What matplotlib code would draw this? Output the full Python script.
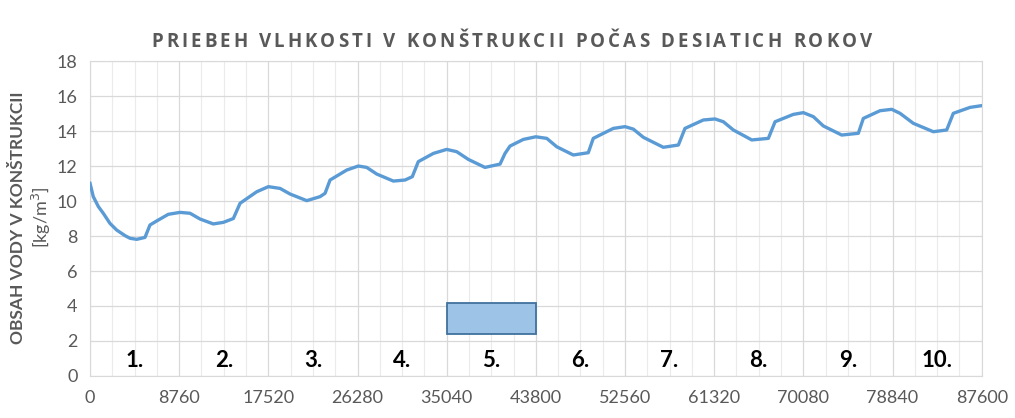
import numpy as np
import matplotlib.pyplot as plt
from matplotlib.patches import Rectangle
from matplotlib.ticker import MultipleLocator

# Obsah vody v konštrukcii [kg/m3] v čase [h]
hodiny = [0, 320, 820, 1300, 1960, 2620, 3440, 3930, 4590, 5400,
          5890, 6550, 7690, 8840, 9820, 10810, 12110, 13100, 14080, 14740,
          16380, 17520, 18670, 19650, 21290, 22600, 23090, 23580, 25220, 26360,
          27180, 28170, 29800, 30950, 31660, 32250, 33730, 35040, 36020, 37160,
          38800, 40280, 40770, 41260, 42570, 43790, 44870, 45850, 47480, 48950,
          49440, 51410, 52560, 53370, 54360, 56320, 57800, 58450, 60250, 61400,
          62220, 63200, 65010, 66640, 67300, 69090, 70080, 71060, 72040, 73850,
          75480, 75970, 77610, 78760, 79580, 80880, 82850, 84160, 84810, 86450,
          87600]
vlhkost = [11.01, 10.25, 9.68, 9.30, 8.72, 8.34, 8.02, 7.87, 7.81, 7.92,
           8.63, 8.86, 9.24, 9.35, 9.30, 8.97, 8.69, 8.78, 9.00, 9.87,
           10.53, 10.82, 10.72, 10.40, 10.02, 10.25, 10.44, 11.20, 11.77, 12.00,
           11.92, 11.54, 11.14, 11.20, 11.39, 12.25, 12.72, 12.95, 12.82, 12.38,
           11.92, 12.11, 12.72, 13.14, 13.52, 13.67, 13.58, 13.10, 12.63, 12.76,
           13.58, 14.15, 14.25, 14.11, 13.64, 13.07, 13.20, 14.15, 14.63, 14.69,
           14.53, 14.06, 13.49, 13.58, 14.53, 14.95, 15.05, 14.82, 14.29, 13.77,
           13.87, 14.72, 15.16, 15.24, 15.01, 14.44, 13.96, 14.06, 15.01, 15.35,
           15.45]

roky = ['1.', '2.', '3.', '4.', '5.', '6.', '7.', '8.', '9.', '10.']
hodin_za_rok = 8760
vyznaceny_rok = 5
obdlznik_od, obdlznik_do = 2.4, 4.15

seda = '#595959'
plt.rcParams['font.family'] = ['Lato', 'DejaVu Sans']


def text_s_medzerami(fig, x_stred, y, retazec, medzera_px, **kw):
    """Vypíše text po znakoch s pridaným rozostupom (v pixeloch)."""
    r = fig.canvas.get_renderer()
    sirky = []
    for znak in retazec:
        t = fig.text(0, 0, znak if znak != ' ' else 'I', **kw)
        w = t.get_window_extent(r).width
        if znak == ' ':
            w *= 0.9
        sirky.append(w)
        t.remove()
    celkom = sum(sirky) + medzera_px * (len(retazec) - 1)
    x = x_stred * fig.bbox.width - celkom / 2
    for znak, w in zip(retazec, sirky):
        if znak != ' ':
            fig.text(x / fig.bbox.width, y, znak, ha='left', va='center', **kw)
        x += w + medzera_px


fig = plt.figure(figsize=(10.15, 4.18), dpi=100)
ax = fig.add_axes([0.0887, 0.1005, 0.8785, 0.7535])

ax.plot(hodiny, vlhkost, color='#5B9BD5', lw=2.4, zorder=3)

# zvýraznený 5. rok
ax.add_patch(Rectangle(((vyznaceny_rok - 1) * hodin_za_rok, obdlznik_od),
                       hodin_za_rok, obdlznik_do - obdlznik_od,
                       facecolor='#9DC3E6', edgecolor='#41719C', lw=1.3, zorder=4))

# čísla rokov
for i, rok in enumerate(roky):
    ax.text((i + 0.5) * hodin_za_rok, 0.9, rok, ha='center', va='center',
            fontsize=16, fontweight='bold', color='black', zorder=5)

ax.set_xlim(0, 10 * hodin_za_rok)
ax.set_ylim(0, 18)
ax.xaxis.set_major_locator(MultipleLocator(hodin_za_rok))
ax.xaxis.set_minor_locator(MultipleLocator(hodin_za_rok / 4))
ax.yaxis.set_major_locator(MultipleLocator(2))
ax.grid(which='major', color='#D9D9D9', lw=0.9)
ax.grid(which='minor', axis='x', color='#EBEBEB', lw=0.8)
ax.set_axisbelow(True)
ax.tick_params(which='both', length=0, colors=seda, labelsize=13)
ax.tick_params(axis='x', pad=10)
ax.tick_params(axis='y', pad=9)
for s in ax.spines.values():
    s.set_color('#D9D9D9')

text_s_medzerami(fig, 0.504, 0.9, 'PRIEBEH VLHKOSTI V KONŠTRUKCII POČAS DESIATICH ROKOV',
                 3.0, fontsize=13.5, fontweight='bold', color=seda, family='Open Sans')
fig.text(0.018, 0.48, 'OBSAH VODY V KONŠTRUKCII', rotation=90, ha='center',
         va='center', fontsize=12.5, fontweight='bold', color=seda)
fig.text(0.041, 0.48, '[kg/m$^3$]', rotation=90, ha='center', va='center',
         fontsize=13, color=seda)

fig.savefig('out.png', dpi=100)
